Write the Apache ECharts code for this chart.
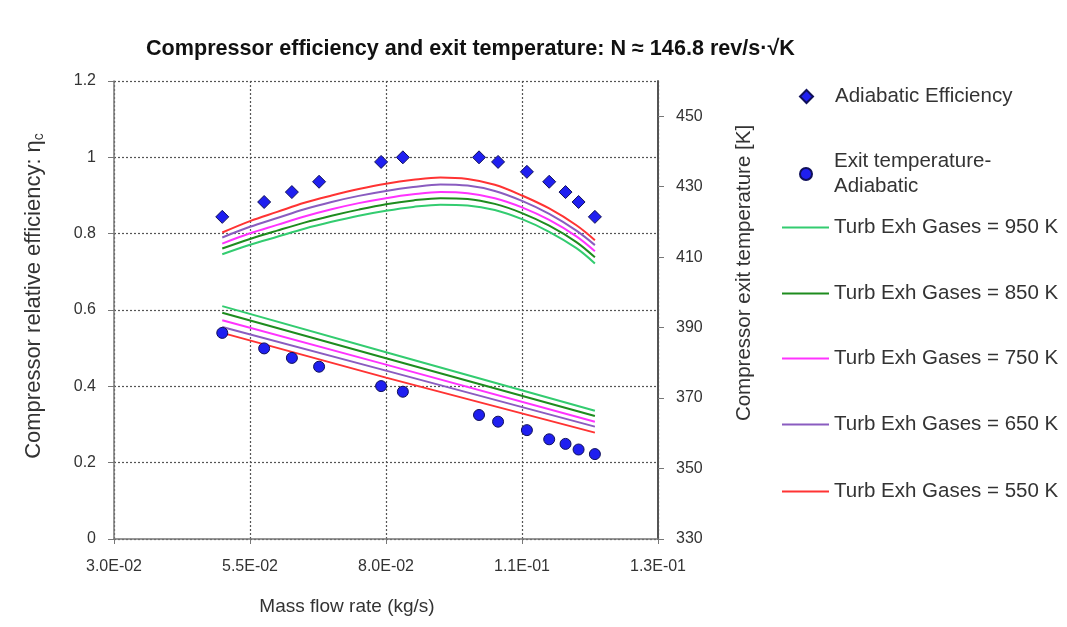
<!DOCTYPE html>
<html>
<head>
<meta charset="utf-8">
<script src="https://cdn.jsdelivr.net/npm/echarts@6/dist/echarts.min.js"></script>
<style>
html,body{margin:0;padding:0;background:#fff;}
#chart{width:1067px;height:627px;}
</style>
</head>
<body>
<div id="chart"></div>
<script>
// ---- data ----
const xTickLabels = ['3.0E-02', '5.5E-02', '8.0E-02', '1.1E-01', '1.3E-01'];
const yLeftTicks = [0, 0.2, 0.4, 0.6, 0.8, 1, 1.2];
const yRightTicks = [330, 350, 370, 390, 410, 430, 450];

const massFlow = [0.0499, 0.0576, 0.0627, 0.0677, 0.0791, 0.0831, 0.0971, 0.1006, 0.1059, 0.1100, 0.1130, 0.1154, 0.1184];
const adiabaticEff = [0.844, 0.883, 0.909, 0.936, 0.988, 1.000, 1.000, 0.988, 0.962, 0.936, 0.909, 0.883, 0.844];
const exitTemp = [388.5, 384.1, 381.4, 378.9, 373.4, 371.8, 365.2, 363.3, 360.9, 358.3, 357.0, 355.4, 354.1];

const curveX = [0.0499, 0.055, 0.060, 0.065, 0.070, 0.075, 0.080, 0.085, 0.090, 0.095, 0.100, 0.105, 0.110, 0.115, 0.1184];
const eff950 = [0.746, 0.771, 0.792, 0.813, 0.831, 0.847, 0.860, 0.870, 0.876, 0.874, 0.862, 0.838, 0.805, 0.762, 0.722];
const eff850 = [0.761, 0.786, 0.808, 0.829, 0.847, 0.863, 0.877, 0.887, 0.893, 0.891, 0.878, 0.854, 0.821, 0.778, 0.738];
const eff750 = [0.774, 0.801, 0.823, 0.845, 0.864, 0.880, 0.893, 0.903, 0.909, 0.906, 0.893, 0.869, 0.836, 0.793, 0.754];
const eff650 = [0.790, 0.818, 0.841, 0.864, 0.883, 0.899, 0.912, 0.922, 0.929, 0.926, 0.912, 0.886, 0.852, 0.808, 0.770];
const eff550 = [0.803, 0.833, 0.857, 0.881, 0.900, 0.917, 0.931, 0.941, 0.947, 0.943, 0.928, 0.900, 0.866, 0.822, 0.783];

const tempX = [0.0499, 0.080, 0.1184];
const temp950 = [396.1, 383.0, 366.4];
const temp850 = [394.2, 381.3, 364.9];
const temp750 = [392.1, 379.5, 363.3];
const temp650 = [390.2, 377.8, 361.9];
const temp550 = [388.5, 375.8, 360.2];

const gasNames = ['Turb Exh Gases = 950 K', 'Turb Exh Gases = 850 K', 'Turb Exh Gases = 750 K', 'Turb Exh Gases = 650 K', 'Turb Exh Gases = 550 K'];
const gasColors = ['#33cc70', '#1e8c1e', '#ff33ff', '#8a5cc0', '#ff3333'];
const effCurves = [eff950, eff850, eff750, eff650, eff550];
const tempCurves = [temp950, temp850, temp750, temp650, temp550];

// ---- chart ----
const chart = echarts.init(document.getElementById('chart'), null, {renderer: 'canvas'});
const FONT = '"Liberation Sans", Arial, sans-serif';
const txt = '#333333';
const markerFill = '#1f1ff0';
const markerEdge = '#10105a';

const series = [];
gasNames.forEach((name, g) => {
  series.push({
    name: name, type: 'line', yAxisIndex: 0, symbol: 'none', smooth: 0.35,
    lineStyle: {color: gasColors[g], width: 2}, itemStyle: {color: gasColors[g]},
    data: curveX.map((x, i) => [x, effCurves[g][i]]), z: 2
  });
  series.push({
    name: name, type: 'line', yAxisIndex: 1, symbol: 'none',
    lineStyle: {color: gasColors[g], width: 2}, itemStyle: {color: gasColors[g]},
    data: tempX.map((x, i) => [x, tempCurves[g][i]]), z: 2
  });
});
series.push({
  name: 'Adiabatic Efficiency', type: 'scatter', yAxisIndex: 0, symbol: 'diamond', symbolSize: 13,
  itemStyle: {color: markerFill, borderColor: markerEdge, borderWidth: 1, opacity: 1},
  data: massFlow.map((x, i) => [x, adiabaticEff[i]]), z: 5
});
series.push({
  name: 'Exit temperature-Adiabatic', type: 'scatter', yAxisIndex: 1, symbol: 'circle', symbolSize: 11,
  itemStyle: {color: markerFill, borderColor: markerEdge, borderWidth: 1, opacity: 1},
  data: massFlow.map((x, i) => [x, exitTemp[i]]), z: 5
});

const legendText = {fontFamily: FONT, fontSize: 20.5, color: txt, lineHeight: 25};
const legends = [
  {data: [{name: 'Adiabatic Efficiency', icon: 'diamond'}], left: 794, top: 79, itemWidth: 13, itemHeight: 13,
   textStyle: Object.assign({}, legendText, {padding: [0, 0, 0, 17]})},
  {data: [{name: 'Exit temperature-Adiabatic', icon: 'circle'}], left: 794, top: 144, itemWidth: 12, itemHeight: 12,
   formatter: () => 'Exit temperature-\nAdiabatic',
   textStyle: Object.assign({}, legendText, {padding: [0, 0, 0, 17]})}
].concat(gasNames.map((n, g) => ({
  data: [{name: n, icon: 'rect'}], left: 777, top: [210, 276, 341, 407, 474][g], itemWidth: 47, itemHeight: 2,
  textStyle: Object.assign({}, legendText)
}))).map(l => Object.assign({orient: 'vertical', selectedMode: false, itemGap: 0}, l));

const option = {
  backgroundColor: '#ffffff',
  animation: false,
  title: {
    text: 'Compressor efficiency and exit temperature: N ≈ 146.8 rev/s·√K',
    left: 141, top: 33,
    textStyle: {fontFamily: FONT, fontSize: 21.6, fontWeight: 'bold', color: '#111'}
  },
  legend: legends,
  grid: {left: 114, right: 409, top: 81, bottom: 88, containLabel: false},
  xAxis: {
    type: 'value', min: 0.03, max: 0.13, interval: 0.025,
    name: 'Mass flow rate (kg/s)', nameLocation: 'middle', nameGap: 58,
    nameTextStyle: {fontFamily: FONT, fontSize: 19, color: txt, padding: [0, 78, 0, 0]},
    axisLine: {show: true, onZero: false, lineStyle: {color: '#777', width: 1.5}},
    axisTick: {show: true, inside: false, length: 5, lineStyle: {color: '#777'}},
    axisLabel: {
      fontFamily: FONT, fontSize: 16, color: txt, margin: 20,
      formatter: v => xTickLabels[Math.round((v - 0.03) / 0.025)] || ''
    },
    splitLine: {show: true, lineStyle: {color: '#555', type: [2, 2], width: 1.2}}
  },
  yAxis: [
    {
      type: 'value', min: 0, max: 1.2, interval: 0.2, position: 'left',
      name: 'Compressor relative efficiency: η{sub|c}', nameLocation: 'middle', nameGap: 68, nameRotate: 90,
      nameTextStyle: {fontFamily: FONT, fontSize: 22, color: txt, padding: [0, 0, 0, 28],
        rich: {sub: {fontFamily: FONT, fontSize: 14, color: txt, padding: [10, 0, 0, 0]}}},
      axisLine: {show: true, lineStyle: {color: '#777', width: 1.5}},
      axisTick: {show: true, length: 6, lineStyle: {color: '#777'}},
      axisLabel: {fontFamily: FONT, fontSize: 16, color: txt, margin: 18,
        formatter: v => { const t = yLeftTicks.find(k => Math.abs(k - v) < 1e-6); return t === undefined ? '' : String(t); }},
      splitLine: {show: true, lineStyle: {color: '#555', type: [2, 2], width: 1.2}}
    },
    {
      type: 'value', min: 330, max: 460, interval: 20, position: 'right',
      name: 'Compressor exit temperature [K]', nameLocation: 'middle', nameGap: 76, nameRotate: 90,
      nameTextStyle: {fontFamily: FONT, fontSize: 20.5, color: txt, padding: [0, 0, 0, 74]},
      axisLine: {show: true, lineStyle: {color: '#555', width: 2}},
      axisTick: {show: true, length: 6, lineStyle: {color: '#777'}, customValues: yRightTicks},
      axisLabel: {fontFamily: FONT, fontSize: 16, color: txt, margin: 18, customValues: yRightTicks,
        formatter: v => yRightTicks.indexOf(v) >= 0 ? String(v) : ''},
      splitLine: {show: false}
    }
  ],
  series: series
};
chart.setOption(option);
</script>
</body>
</html>
